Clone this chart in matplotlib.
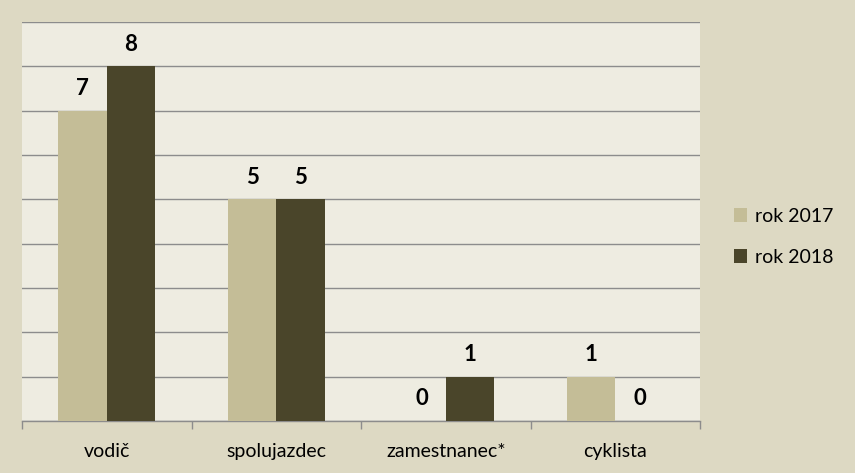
import matplotlib
matplotlib.use("Agg")
import matplotlib.pyplot as plt
import numpy as np

categories = ["vodič", "spolujazdec", "zamestnanec*", "cyklista"]
series_names = ["rok 2017", "rok 2018"]
values_2017 = [7, 5, 0, 1]
values_2018 = [8, 5, 1, 0]

c2017 = "#c4bd97"
c2018 = "#4a452a"
outer_bg = "#ddd9c3"
plot_bg = "#eeece1"
grid_c = "#8c8c8c"

plt.rcParams['font.family'] = ['Lato', 'DejaVu Sans']

fig = plt.figure(figsize=(8.55, 4.73), dpi=100, facecolor=outer_bg)
ax = fig.add_axes([22/855, 1 - 421/473, (700-22)/855, (421-22)/473])
ax.set_facecolor(plot_bg)

x = np.arange(len(categories))
w = 0.286
b1 = ax.bar(x - w/2, values_2017, w, color=c2017, label=series_names[0], zorder=3)
b2 = ax.bar(x + w/2, values_2018, w, color=c2018, label=series_names[1], zorder=3)

for bars, vals in ((b1, values_2017), (b2, values_2018)):
    for r, v in zip(bars, vals):
        ax.annotate(str(v), (r.get_x() + r.get_width()/2, v), xytext=(0, 16),
                    textcoords="offset points", ha="center", va="center",
                    fontsize=16, fontweight="bold", color="black")

ax.set_xlim(-0.5, len(categories) - 0.5)
ax.set_ylim(0, 9)
ax.set_yticks(np.arange(0, 10, 1))
ax.yaxis.grid(True, color=grid_c, linewidth=1, zorder=0)
ax.tick_params(axis='y', left=False, labelleft=False)

ax.set_xticks(np.arange(-0.5, len(categories), 1))
ax.set_xticklabels([])
ax.set_xticks(x, minor=True)
ax.set_xticklabels(categories, minor=True)
ax.tick_params(axis='x', which='major', direction='out', length=6, color=grid_c, width=1)
ax.tick_params(axis='x', which='minor', length=0, pad=16, labelsize=14)

for s in ("left", "right", "top"):
    ax.spines[s].set_visible(False)
ax.spines["bottom"].set_color(grid_c)
ax.spines["bottom"].set_linewidth(1)

leg = ax.legend(loc="center left", bbox_to_anchor=(1.024, 0.462), frameon=False,
                fontsize=14, handlelength=0.7, handleheight=0.7, handletextpad=0.4,
                labelspacing=1.25)

fig.savefig("out.png", dpi=100, facecolor=outer_bg)
